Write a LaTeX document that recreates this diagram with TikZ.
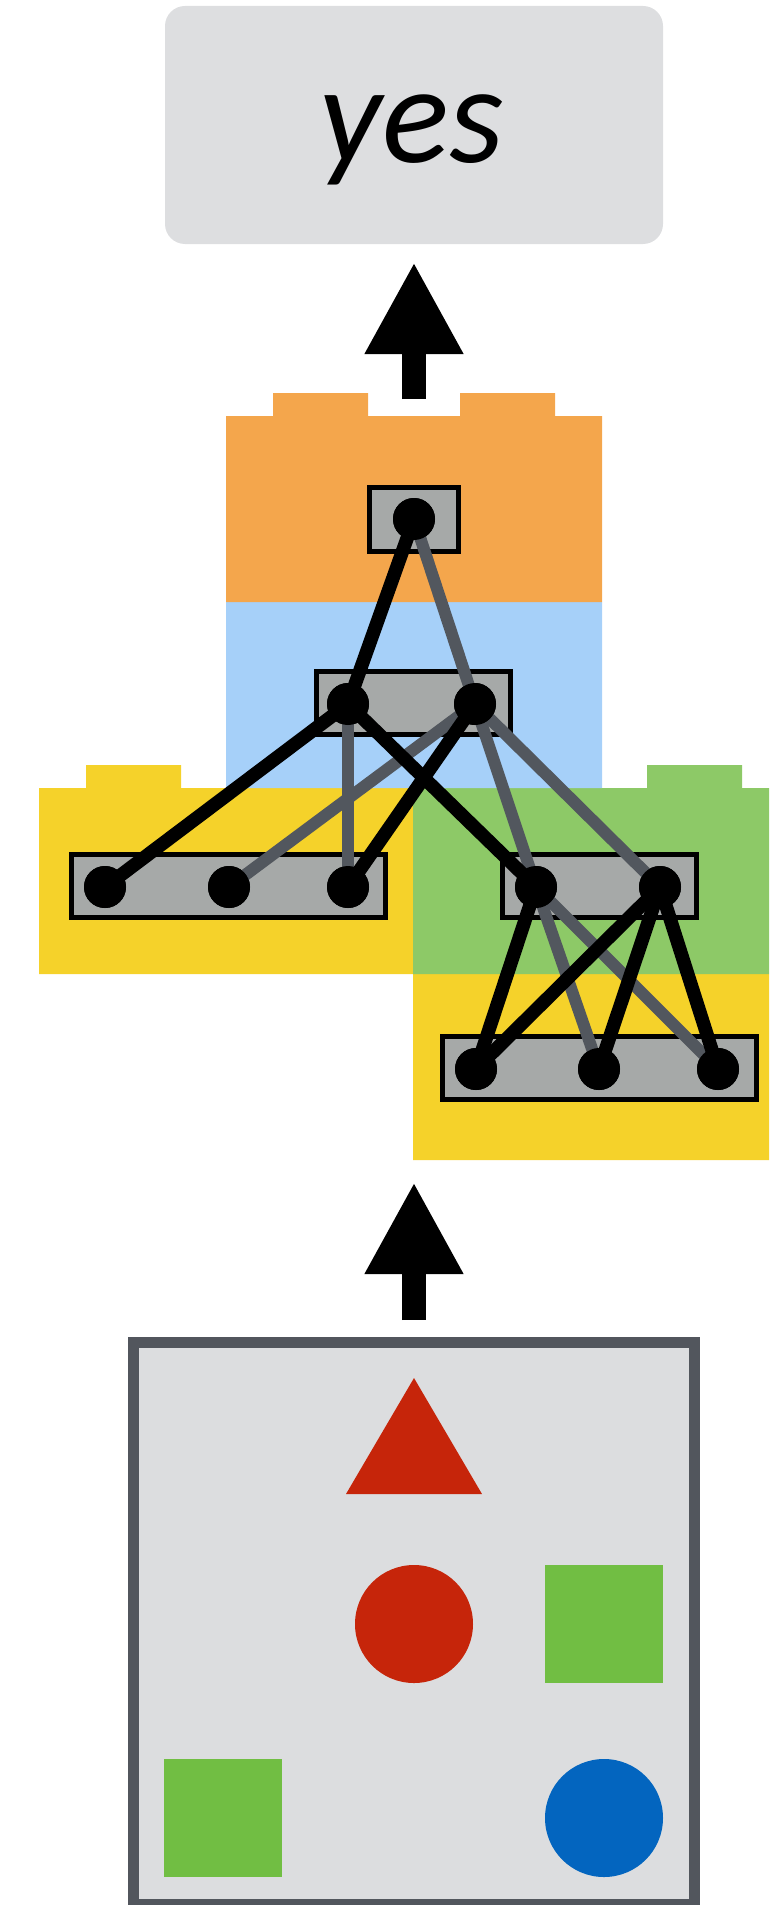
\documentclass[tikz,border=0pt]{standalone}
\usepackage{fontspec}
\newfontfamily\yesfont{Carlito}
\usetikzlibrary{arrows.meta}
\definecolor{yesgray}{HTML}{DDDEE0}
\definecolor{brickorange}{HTML}{F4A64C}
\definecolor{brickblue}{HTML}{A6D0F9}
\definecolor{brickyellow}{HTML}{F5D22A}
\definecolor{brickgreen}{HTML}{8DC967}
\definecolor{boxgray}{HTML}{A6A9A8}
\definecolor{edgegray}{HTML}{52575E}
\definecolor{inputfill}{HTML}{DCDDDF}
\definecolor{inputborder}{HTML}{52565D}
\definecolor{shapered}{HTML}{C6250A}
\definecolor{shapegreen}{HTML}{71BE43}
\definecolor{shapeblue}{HTML}{0365BF}
\def\mybrick#1#2#3{\fill[#3] (#1,#2+186) -- (#1,#2) -- (#1+47,#2) -- (#1+47,#2-23) -- (#1+142,#2-23) -- (#1+142,#2) -- (#1+234,#2) -- (#1+234,#2-23) -- (#1+329,#2-23) -- (#1+329,#2) -- (#1+376,#2) -- (#1+376,#2+186) -- cycle;}
\tikzset{
  yesbox/.style={fill=yesgray, rounded corners=20pt, minimum width=498pt, minimum height=238pt, inner sep=0pt, outer sep=0pt, text height=84pt, text depth=8pt, font=\yesfont\itshape\fontsize{140}{140}\selectfont},
  nodebox/.style={fill=boxgray, draw=black, line width=5pt, inner sep=0pt, outer sep=0pt, minimum height=63pt},
  dot/.style={circle, fill=black, minimum size=42pt, inner sep=0pt, outer sep=0pt},
  blackedge/.style={draw=black, line width=13.5pt},
  grayedge/.style={draw=edgegray, line width=12pt},
  bigarrow/.style={line width=24pt, -{Triangle[length=92pt,width=92pt]}},
}
\begin{document}
\begin{tikzpicture}[x=1pt,y=-1pt]
\useasboundingbox (0,0) rectangle (769,1905);
\clip (0,0) rectangle (769,1905);
% output
\node[yesbox] (yes) at (414,125) {yes\kern5pt};
% bricks, bottom to top
\mybrick{413}{974}{brickyellow}
\mybrick{39}{788}{brickyellow}
\mybrick{413}{788}{brickgreen}
\mybrick{226}{602}{brickblue}
\mybrick{226}{416}{brickorange}
% unit groups
\node[nodebox, minimum width=89pt, minimum height=64pt] (gtop) at (414,519.5) {};
\node[nodebox, minimum width=194pt] (gmid) at (413.5,703) {};
\node[nodebox, minimum width=314pt] (gleft) at (228.5,886) {};
\node[nodebox, minimum width=194pt] (gright) at (599.5,886) {};
\node[nodebox, minimum width=314pt] (gbot) at (599.5,1068) {};
% dots
\node[dot] (t) at (414,519) {};
\node[dot] (L) at (348,704) {};
\node[dot] (R) at (475,704) {};
\node[dot] (a1) at (105,887) {};
\node[dot] (a2) at (229,887) {};
\node[dot] (a3) at (348,887) {};
\node[dot] (g1) at (536,887) {};
\node[dot] (g2) at (660,887) {};
\node[dot] (b1) at (476,1069) {};
\node[dot] (b2) at (599,1069) {};
\node[dot] (b3) at (718,1069) {};
% edges: gray first, black on top
\path[grayedge] (t.center) -- (R.center);
\path[grayedge] (L.center) -- (a3.center);
\path[grayedge] (R.center) -- (a2.center);
\path[grayedge] (R.center) -- (g1.center);
\path[grayedge] (R.center) -- (g2.center);
\path[grayedge] (g1.center) -- (b2.center);
\path[grayedge] (g1.center) -- (b3.center);
\path[blackedge] (t.center) -- (L.center);
\path[blackedge] (L.center) -- (a1.center);
\path[blackedge] (L.center) -- (g1.center);
\path[blackedge] (R.center) -- (a3.center);
\path[blackedge] (g1.center) -- (b1.center);
\path[blackedge] (g2.center) -- (b1.center);
\path[blackedge] (g2.center) -- (b2.center);
\path[blackedge] (g2.center) -- (b3.center);
% redraw dots on top
\foreach \n in {t,L,R,a1,a2,a3,g1,g2,b1,b2,b3} \fill (\n) circle (21pt);
% input scene
\node[fill=inputfill, draw=inputborder, line width=11pt, minimum width=561pt, minimum height=562pt, inner sep=0pt, outer sep=0pt, anchor=north west] (scene) at (133.5,1342.5) {};
\fill[shapered] (414,1378) -- (482,1494) -- (346,1494) -- cycle;
\fill[shapered] (414,1624) circle (59pt);
\fill[shapegreen] (545,1565) rectangle (663,1683);
\fill[shapegreen] (164,1759) rectangle (282,1877);
\fill[shapeblue] (604,1818) circle (59pt);
% arrows
\coordinate (arrTopS) at (414,399);
\coordinate (arrTopE) at (414,262);
\coordinate (arrBotS) at (414,1320);
\coordinate (arrBotE) at (414,1182);
\draw[bigarrow] (arrTopS) -- (arrTopE);
\draw[bigarrow] (arrBotS) -- (arrBotE);
\end{tikzpicture}
\end{document}
